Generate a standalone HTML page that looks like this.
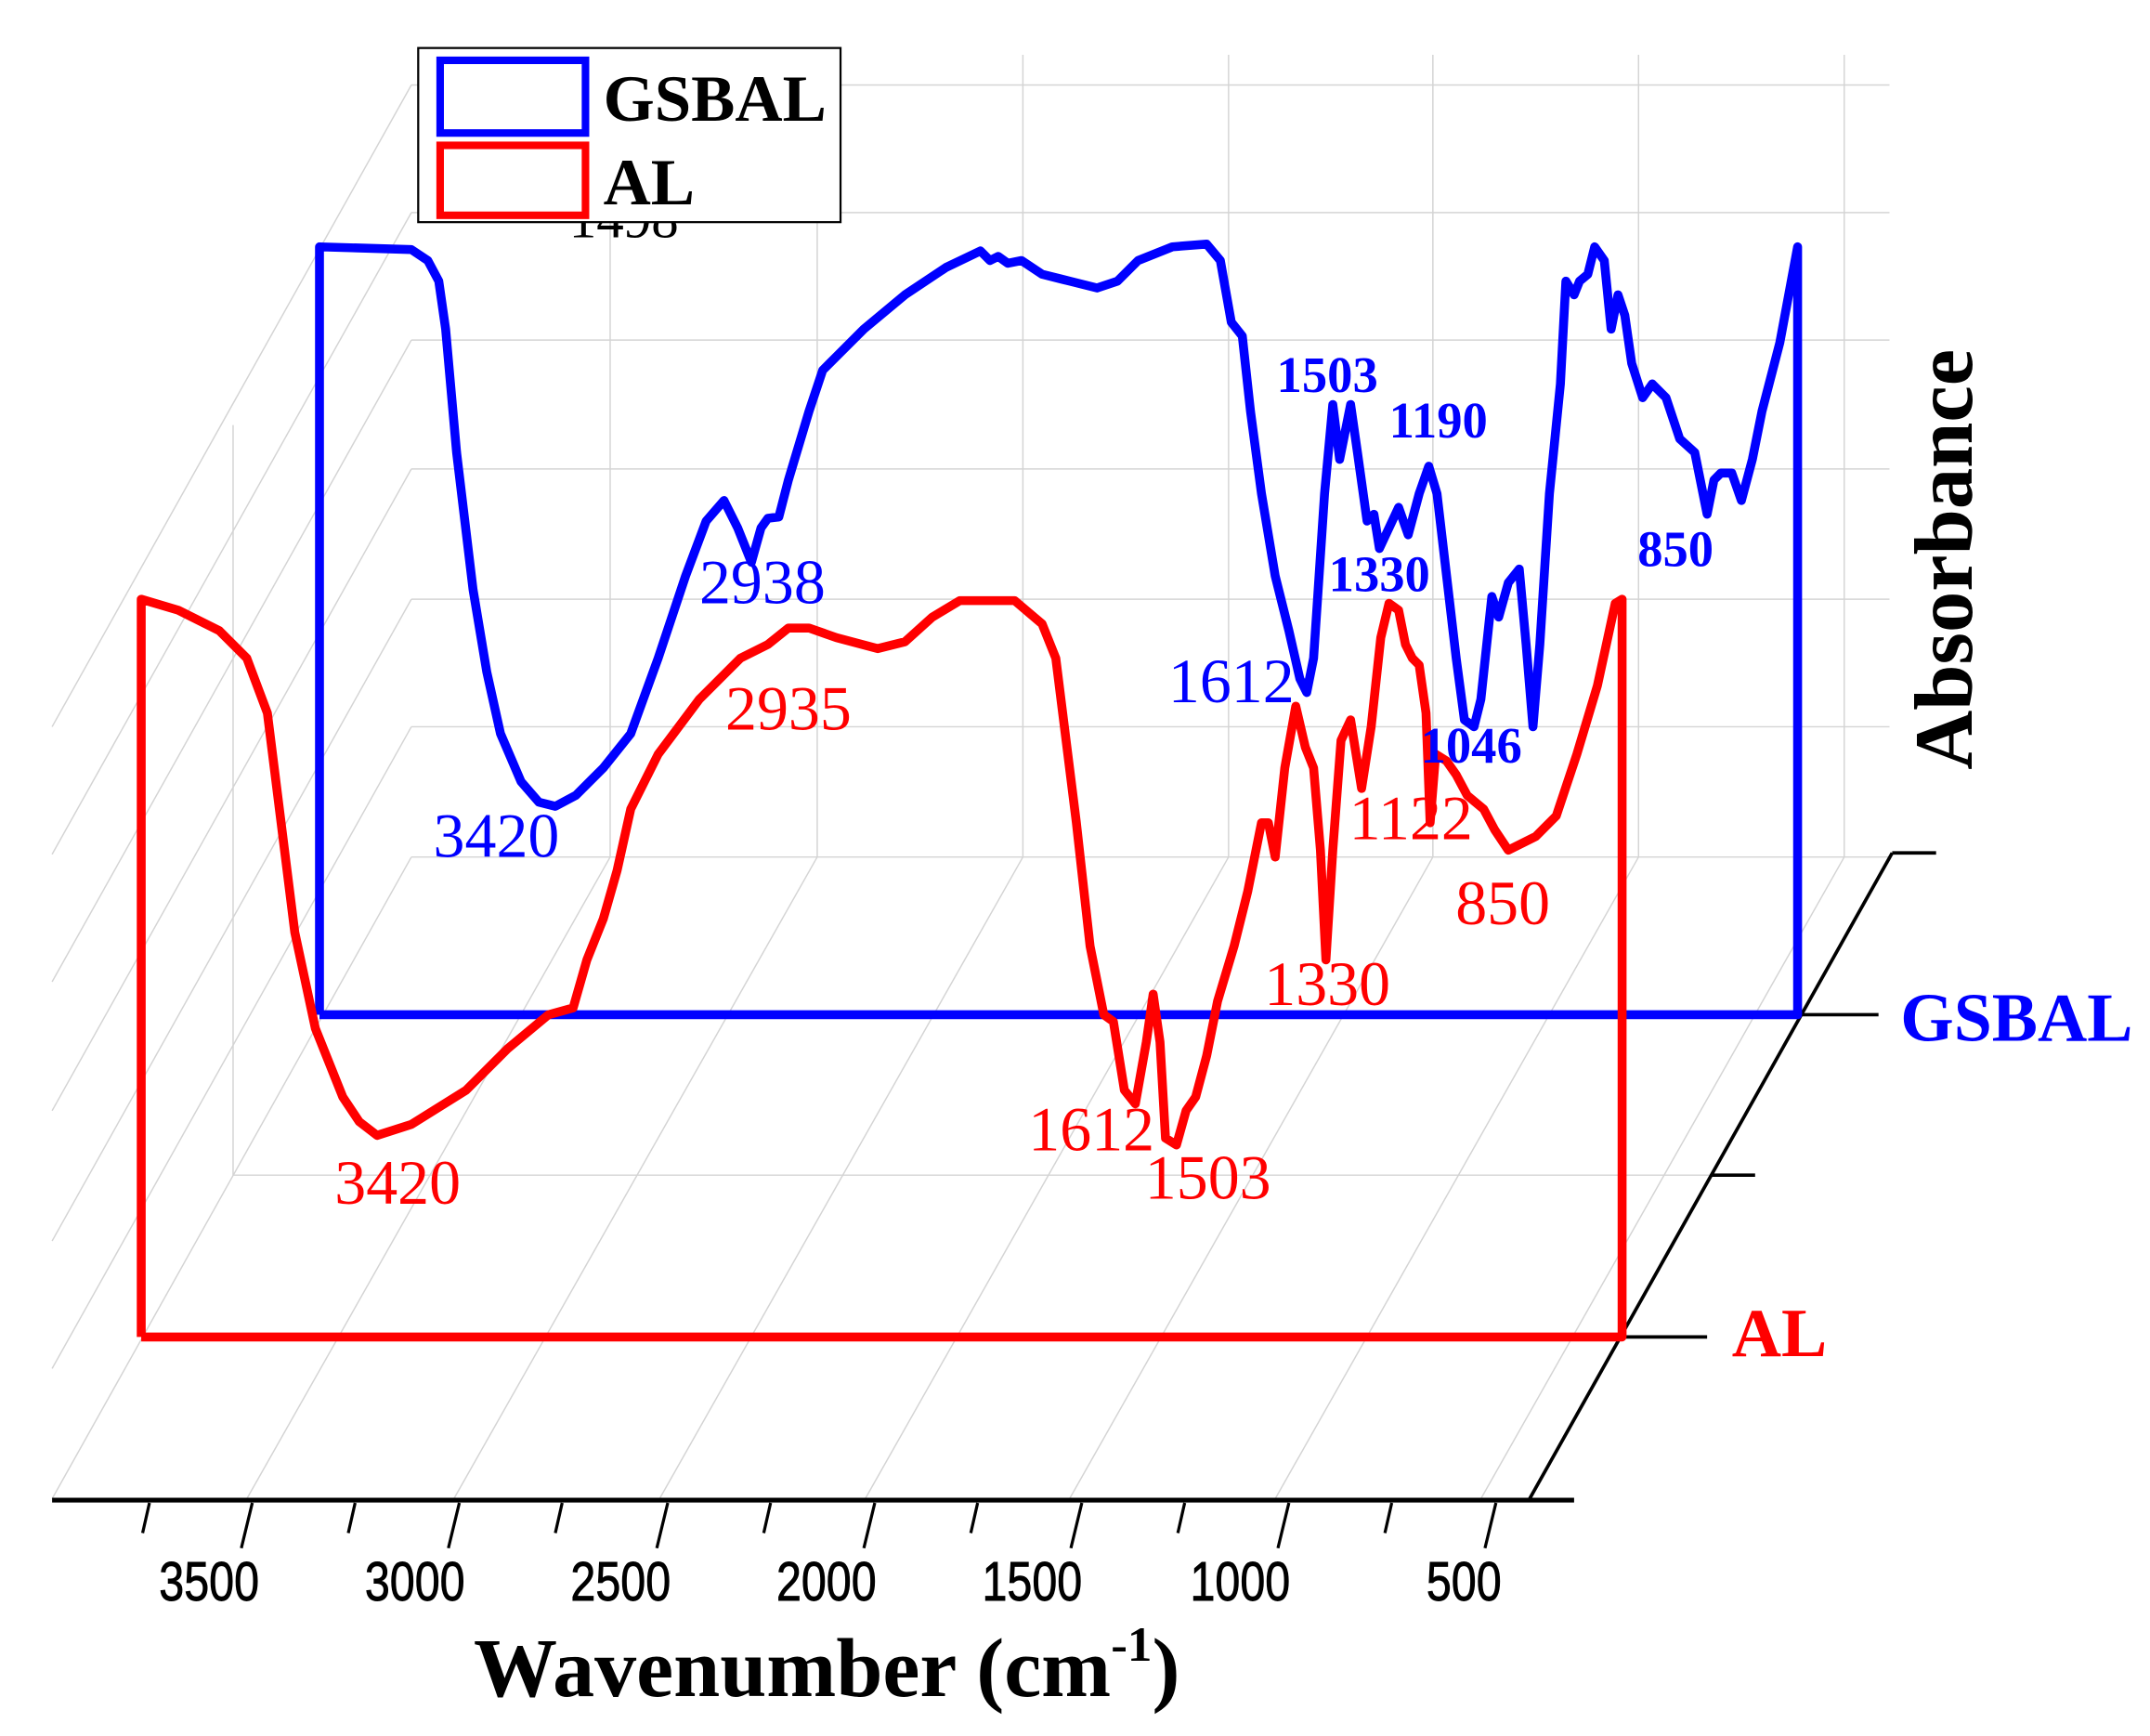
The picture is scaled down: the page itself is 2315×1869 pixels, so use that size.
<!DOCTYPE html>
<html><head><meta charset="utf-8"><style>
html,body{margin:0;padding:0;background:#fff;}
svg{display:block;}
</style></head><body>
<svg width="2315" height="1869" viewBox="0 0 1568 1266" preserveAspectRatio="none" xmlns="http://www.w3.org/2000/svg">
<rect width="1568" height="1266" fill="#fff"/>
<g stroke="#d4d4d4" stroke-width="1" fill="none">
  <line x1="300" y1="62" x2="1378" y2="62"/>
  <line x1="300" y1="155" x2="1378" y2="155"/>
  <line x1="300" y1="248" x2="1378" y2="248"/>
  <line x1="300" y1="342" x2="1378" y2="342"/>
  <line x1="300" y1="437" x2="1378" y2="437"/>
  <line x1="300" y1="530" x2="1378" y2="530"/>
  <line x1="300" y1="625" x2="1378" y2="625"/>
  <line x1="445" y1="40" x2="445" y2="625"/>
  <line x1="596" y1="40" x2="596" y2="625"/>
  <line x1="746" y1="40" x2="746" y2="625"/>
  <line x1="896" y1="40" x2="896" y2="625"/>
  <line x1="1045" y1="40" x2="1045" y2="625"/>
  <line x1="1195" y1="40" x2="1195" y2="625"/>
  <line x1="1345" y1="40" x2="1345" y2="625"/>
  <line x1="170" y1="310" x2="170" y2="857"/>
  <line x1="300" y1="62" x2="38" y2="530"/>
  <line x1="300" y1="155" x2="38" y2="623"/>
  <line x1="300" y1="248" x2="38" y2="716"/>
  <line x1="300" y1="342" x2="38" y2="810"/>
  <line x1="300" y1="437" x2="38" y2="905"/>
  <line x1="300" y1="530" x2="38" y2="998"/>
  <line x1="300" y1="625" x2="38" y2="1093"/>
  <line x1="170" y1="857" x2="1248" y2="857"/>
  <line x1="445" y1="625" x2="180" y2="1093"/>
  <line x1="596" y1="625" x2="331" y2="1093"/>
  <line x1="746" y1="625" x2="481" y2="1093"/>
  <line x1="896" y1="625" x2="631" y2="1093"/>
  <line x1="1045" y1="625" x2="780" y2="1093"/>
  <line x1="1195" y1="625" x2="930" y2="1093"/>
  <line x1="1345" y1="625" x2="1080" y2="1093"/>
</g>
<g stroke="#000" stroke-width="2.5" fill="none">
  <line x1="38" y1="1094" x2="1148" y2="1094" stroke-width="3.5"/>
  <line x1="1115" y1="1094" x2="1380" y2="622"/>
  <line x1="1380" y1="622" x2="1412" y2="622"/>
  <line x1="1311" y1="740" x2="1370" y2="740"/>
  <line x1="1248" y1="857" x2="1280" y2="857"/>
  <line x1="1183" y1="975" x2="1245" y2="975"/>
</g>
<g stroke="#000" stroke-width="2.2" fill="none">
  <path d="M109 1096 l-5 22 M184 1096 l-8 33 M259 1096 l-5 22 M335 1096 l-8 33 M410 1096 l-5 22 M487 1096 l-8 33 M562 1096 l-5 22 M638 1096 l-8 33 M713 1096 l-5 22 M789 1096 l-8 33 M864 1096 l-5 22 M940 1096 l-8 33 M1015 1096 l-5 22 M1091 1096 l-8 33"/>
</g>
<g font-family="Liberation Sans, sans-serif" font-size="40" fill="#000" stroke="#000" stroke-width="0.6" text-anchor="middle" transform="scale(0.82,1)">
  <text x="186" y="1167">3500</text>
  <text x="369" y="1167">3000</text>
  <text x="552" y="1167">2500</text>
  <text x="735" y="1167">2000</text>
  <text x="918" y="1167">1500</text>
  <text x="1103" y="1167">1000</text>
  <text x="1302" y="1167">500</text>
</g>
<text x="603" y="1237" font-family="Liberation Serif, serif" font-weight="bold" font-size="61" text-anchor="middle">Wavenumber (cm<tspan dy="-26" font-size="36">-1</tspan><tspan dy="26">)</tspan></text>
<text transform="translate(1438,408) rotate(-90)" font-family="Liberation Serif, serif" font-weight="bold" font-size="60" text-anchor="middle">Absorbance</text>
<text x="1386" y="759" font-family="Liberation Serif, serif" font-weight="bold" font-size="50" fill="#0000ff">GSBAL</text>
<text x="1263" y="989" font-family="Liberation Serif, serif" font-weight="bold" font-size="50" fill="#ff0000">AL</text>
<polyline fill="none" stroke="#0000ff" stroke-width="6.5" stroke-linejoin="round" points="233,740 233,180 300,182 312,190 320,205 325,240 333,330 345,430 355,490 365,535 380,570 393,585 405,588 420,580 440,560 460,535 480,480 500,420 515,380 528,365 538,385 548,410 555,385 560,378 568,377 575,350 590,300 600,270 630,240 660,215 690,195 715,183 722,190 728,187 735,192 745,190 760,200 780,205 800,210 815,205 830,190 855,180 880,178 890,190 898,235 906,245 912,300 920,360 930,420 940,460 948,495 953,505 958,480 966,360 972,295 977,335 985,295 990,330 997,380 1002,375 1006,400 1013,385 1020,370 1027,390 1035,360 1042,340 1048,360 1055,420 1062,480 1068,525 1075,530 1080,510 1088,435 1093,450 1100,425 1108,415 1113,470 1118,530 1123,470 1130,360 1138,280 1142,205 1148,215 1152,205 1158,200 1163,180 1170,190 1175,240 1180,215 1185,230 1190,265 1198,290 1205,280 1215,290 1225,320 1236,330 1240,350 1245,375 1250,350 1255,345 1263,345 1270,365 1278,335 1285,300 1298,250 1311,180 1311,740 233,740"/>
<polyline fill="none" stroke="#ff0000" stroke-width="6.5" stroke-linejoin="round" points="103,975 103,437 130,445 160,460 180,480 195,520 205,600 215,680 230,750 250,800 262,818 275,828 300,820 340,795 370,765 400,740 418,735 428,700 440,670 450,635 460,590 480,550 510,510 540,480 560,470 575,458 590,458 610,465 640,473 660,468 680,450 700,438 740,438 760,455 770,480 785,600 795,690 805,740 812,745 820,795 828,805 836,760 841,725 846,760 850,830 858,835 865,810 872,800 880,770 888,730 900,690 910,650 920,600 925,600 930,625 937,560 945,515 952,545 958,560 963,620 967,700 972,620 978,540 985,525 993,575 1000,530 1007,465 1013,440 1020,445 1025,470 1030,480 1035,485 1040,520 1043,600 1047,550 1055,555 1062,565 1070,580 1082,590 1090,605 1100,620 1110,615 1120,610 1135,595 1150,550 1165,500 1178,440 1183,437 1183,975 103,975"/>
<g font-family="Liberation Serif, serif" fill="#0000ff" text-anchor="middle">
  <text x="362" y="625" font-size="46">3420</text>
  <text x="556" y="440" font-size="46">2938</text>
  <text x="898" y="512" font-size="46">1612</text>
  <g font-weight="bold" font-size="37">
    <text x="968" y="286">1503</text>
    <text x="1049" y="319">1190</text>
    <text x="1006" y="431">1330</text>
    <text x="1073" y="556">1046</text>
    <text x="1222" y="413">850</text>
  </g>
</g>
<g font-family="Liberation Serif, serif" fill="#ff0000" text-anchor="middle" font-size="46">
  <text x="290" y="878">3420</text>
  <text x="575" y="532">2935</text>
  <text x="796" y="839">1612</text>
  <text x="881" y="874">1503</text>
  <text x="968" y="733">1330</text>
  <text x="1029" y="612">1122</text>
  <text x="1096" y="674">850</text>
</g>
<text x="455" y="173" font-family="Liberation Serif, serif" font-size="40" fill="#000" text-anchor="middle">1498</text>
<rect x="305" y="35" width="308" height="127" fill="#fff" stroke="#000" stroke-width="1.5"/>
<rect x="321" y="44" width="106" height="53" fill="none" stroke="#0000ff" stroke-width="5.5"/>
<rect x="321" y="106" width="106" height="51" fill="none" stroke="#ff0000" stroke-width="5.5"/>
<text x="440" y="88" font-family="Liberation Serif, serif" font-weight="bold" font-size="48">GSBAL</text>
<text x="440" y="149" font-family="Liberation Serif, serif" font-weight="bold" font-size="48">AL</text>
</svg>
</body></html>
